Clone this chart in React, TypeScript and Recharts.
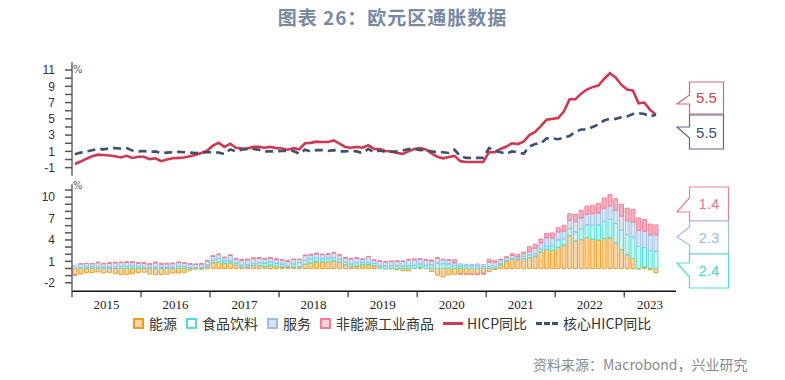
import { ComposedChart, Line, Bar, XAxis, YAxis } from 'recharts';

document.body.style.margin = '0';

const years = ['2015', '2016', '2017', '2018', '2019', '2020', '2021', '2022', '2023'];

// HICP y/y, %
const hicp = [
  -0.55, -0.25, 0.1, 0.4, 0.6, 0.55, 0.5, 0.4, 0.25, 0.45, 0.2, 0.35,
  0.35, 0.05, 0.15, -0.2, 0.0, 0.15, 0.2, 0.25, 0.4, 0.6, 0.8, 1.1,
  1.7, 2.05, 1.55, 1.95, 1.45, 1.35, 1.35, 1.55, 1.55, 1.45, 1.55, 1.4,
  1.35, 1.2, 1.4, 1.25, 2.0, 2.05, 2.2, 2.15, 2.15, 2.35, 1.95, 1.55,
  1.45, 1.55, 1.45, 1.75, 1.3, 1.3, 1.05, 1.0, 0.8, 0.7, 1.0, 1.3,
  1.4, 1.25, 0.75, 0.35, 0.15, 0.3, 0.45, -0.2, -0.3, -0.3, -0.3, -0.3,
  0.9, 0.9, 1.3, 1.6, 2.0, 1.9, 2.2, 3.0, 3.4, 4.1, 4.9, 5.0,
  5.1, 5.9, 7.4, 7.4, 8.1, 8.6, 8.9, 9.1, 9.9, 10.6, 10.1, 9.2,
  8.6, 8.5, 6.9, 7.0, 6.1, 5.5,
];

// core HICP y/y, %
const coreHicp = [
  0.65, 0.85, 1.0, 1.15, 1.3, 1.25, 1.4, 1.4, 1.35, 1.4, 1.1, 1.0,
  1.05, 0.95, 1.0, 0.8, 0.85, 0.9, 0.95, 0.9, 0.85, 0.8, 0.85, 0.9,
  0.9, 0.85, 0.65, 1.25, 1.0, 1.2, 1.3, 1.3, 1.2, 1.0, 1.0, 1.0,
  1.05, 1.05, 1.05, 0.7, 1.2, 1.0, 1.15, 1.15, 1.05, 1.15, 1.0, 1.0,
  1.1, 1.0, 0.8, 1.3, 0.9, 1.1, 0.95, 0.95, 1.0, 1.1, 1.3, 1.3,
  1.15, 1.2, 1.0, 0.9, 0.9, 0.8, 1.2, 0.4, 0.2, 0.2, 0.2, 0.2,
  1.4, 1.1, 0.9, 0.7, 1.0, 0.9, 0.7, 1.6, 1.9, 2.0, 2.6, 2.6,
  2.5, 2.7, 2.9, 3.4, 3.7, 3.7, 4.0, 4.3, 4.8, 5.0, 5.0, 5.2,
  5.3, 5.6, 5.7, 5.6, 5.3, 5.5,
];

// contributions, ppt
const energy = [
  -0.9, -0.77, -0.58, -0.56, -0.49, -0.62, -0.54, -0.7, -0.86, -0.82, -0.71, -0.56,
  -0.52, -0.79, -0.84, -0.84, -0.79, -0.62, -0.65, -0.54, -0.29, -0.09, -0.11, 0.25,
  0.79, 0.9, 0.72, 0.74, 0.44, 0.18, 0.21, 0.39, 0.38, 0.29, 0.46, 0.28,
  0.21, 0.2, 0.19, 0.25, 0.59, 0.78, 0.91, 0.89, 0.92, 1.04, 0.88, 0.53,
  0.26, 0.35, 0.51, 0.51, 0.37, 0.02, -0.05, -0.06, -0.17, -0.3, -0.31, 0.02,
  0.18, -0.03, -0.44, -0.94, -1.15, -0.9, -0.81, -0.76, -0.8, -0.8, -0.81, -0.67,
  -0.41, -0.16, 0.42, 1.01, 1.27, 1.22, 1.39, 1.49, 1.71, 2.3, 2.67, 2.52,
  2.97, 3.29, 4.57, 3.86, 4.03, 4.33, 4.08, 3.98, 4.19, 4.27, 3.59, 2.63,
  1.93, 1.4, -0.09, 0.24, -0.18, -0.57,
];

const food = [
  0.0, 0.1, 0.2, 0.22, 0.24, 0.18, 0.18, 0.24, 0.26, 0.3, 0.3, 0.24,
  0.16, 0.12, 0.16, 0.16, 0.18, 0.18, 0.28, 0.26, 0.14, 0.08, 0.14, 0.24,
  0.36, 0.5, 0.36, 0.3, 0.3, 0.26, 0.28, 0.28, 0.38, 0.46, 0.44, 0.42,
  0.38, 0.2, 0.42, 0.56, 0.52, 0.54, 0.5, 0.48, 0.52, 0.46, 0.4, 0.34,
  0.36, 0.46, 0.3, 0.3, 0.32, 0.3, 0.36, 0.38, 0.34, 0.32, 0.36, 0.4,
  0.44, 0.44, 0.48, 0.74, 0.66, 0.64, 0.4, 0.34, 0.36, 0.38, 0.38, 0.26,
  0.28, 0.26, 0.22, 0.12, 0.12, 0.1, 0.32, 0.4, 0.38, 0.38, 0.44, 0.64,
  1.04, 0.84, 1.0, 1.26, 1.5, 1.78, 1.96, 2.12, 2.36, 2.62, 2.72, 2.76,
  2.82, 3.0, 3.1, 2.7, 2.5, 2.4,
];

const services = [
  0.44, 0.53, 0.48, 0.44, 0.57, 0.48, 0.53, 0.53, 0.57, 0.53, 0.53, 0.48,
  0.53, 0.4, 0.62, 0.44, 0.44, 0.48, 0.53, 0.48, 0.48, 0.48, 0.48, 0.57,
  0.53, 0.57, 0.44, 0.79, 0.57, 0.7, 0.7, 0.7, 0.66, 0.57, 0.53, 0.53,
  0.57, 0.57, 0.66, 0.44, 0.7, 0.57, 0.62, 0.57, 0.57, 0.66, 0.57, 0.57,
  0.7, 0.62, 0.48, 0.84, 0.44, 0.7, 0.53, 0.57, 0.66, 0.66, 0.84, 0.79,
  0.66, 0.7, 0.57, 0.7, 0.57, 0.53, 0.4, 0.31, 0.22, 0.18, 0.26, 0.31,
  0.62, 0.57, 0.57, 0.4, 0.48, 0.31, 0.4, 0.48, 0.75, 0.92, 1.19, 1.06,
  1.1, 1.1, 1.19, 1.45, 1.54, 1.5, 1.63, 1.67, 1.89, 1.89, 1.85, 1.94,
  1.94, 2.11, 2.24, 2.29, 2.2, 2.3,
];

const neig = [
  -0.03, 0.03, 0.05, 0.03, 0.08, 0.08, 0.11, 0.11, 0.08, 0.13, 0.13, 0.13,
  0.18, 0.18, 0.13, 0.13, 0.11, 0.11, 0.11, 0.08, 0.08, 0.08, 0.08, 0.08,
  0.13, 0.05, 0.08, 0.08, 0.08, 0.11, 0.13, 0.13, 0.13, 0.11, 0.11, 0.16,
  0.08, 0.16, 0.05, 0.08, 0.08, 0.11, 0.13, 0.08, 0.08, 0.11, 0.08, 0.11,
  0.08, 0.11, 0.05, 0.05, 0.08, 0.05, 0.11, 0.11, 0.08, 0.08, 0.11, 0.13,
  0.08, 0.13, 0.13, 0.08, 0.05, 0.05, 0.42, -0.03, -0.03, -0.03, -0.08, -0.13,
  0.39, 0.26, 0.08, 0.11, 0.18, 0.32, 0.18, 0.68, 0.55, 0.53, 0.63, 0.76,
  0.6, 0.82, 0.89, 1.0, 1.1, 1.13, 1.18, 1.34, 1.45, 1.6, 1.6, 1.68,
  1.76, 1.79, 1.74, 1.63, 1.53, 1.4,
];

const topTicks = [-1, 0, 1, 2, 3, 4, 5, 6, 7, 8, 9, 10, 11];
const bottomTicks = [-2, -1, 0, 1, 2, 3, 4, 5, 6, 7, 8, 9, 10, 11];

const legendLabels = ['能源', '食品饮料', '服务', '非能源工业商品', 'HICP同比', '核心HICP同比'];

const C = {
  energy: '#F39A22',
  food: '#4FDFD6',
  services: '#9DBDE4',
  neig: '#F27C96',
  hicp: '#D0384F',
  core: '#3E4F70',
};

const rows = hicp.map((v, i) => ({
  x: i + 0.5,
  month: `${years[Math.floor(i / 12)]}-${String((i % 12) + 1).padStart(2, '0')}`,
  hicp: v,
  core: coreHicp[i],
  energy: energy[i],
  food: food[i],
  services: services[i],
  neig: neig[i],
}));

const X_MAX = 105;
const yearBounds = years.map((_, i) => i * 12);
const yearMids = years.map((_, i) => (i === years.length - 1 ? (i * 12 + X_MAX) / 2 : i * 12 + 6));

const yearFont = { fontSize: 13, fill: '#222', fontFamily: '"Liberation Serif", serif' };
const valueFont = { fontSize: 12, fill: '#333', fontFamily: '"Liberation Sans", sans-serif' };

const YearTick = (props: any) => {
  const { x, y, payload } = props;
  const v = payload.value;
  if (yearBounds.indexOf(v) >= 0) {
    return <line x1={x} x2={x} y1={y} y2={y + 6} stroke="#333" strokeWidth={1.2} />;
  }
  const mi = yearMids.indexOf(v);
  return (
    <text x={x} y={y + 18} textAnchor="middle" {...yearFont}>
      {years[mi]}
    </text>
  );
};

const last = (a: number[]) => a[a.length - 1].toFixed(1);

function LegendIcon({ color, light }: { color: string; light: string }) {
  return (
    <span
      style={{
        display: 'inline-block',
        width: 7,
        height: 7,
        border: `2px solid ${color}`,
        background: light,
        marginRight: 5,
      }}
    />
  );
}

export default function App() {
  const legendItem = { display: 'flex', alignItems: 'center', marginRight: 9 } as const;
  return (
    <div
      style={{
        position: 'relative',
        width: 785,
        height: 380,
        background: '#fff',
        overflow: 'hidden',
        fontFamily: '"Noto Sans CJK SC", sans-serif',
      }}
    >
      <div
        style={{
          position: 'absolute',
          top: 3,
          left: 0,
          width: 785,
          textAlign: 'center',
          fontSize: 19,
          fontWeight: 700,
          color: '#7889A4',
          letterSpacing: 1,
        }}
      >
        图表 26：欧元区通胀数据
      </div>

      <div style={{ position: 'absolute', left: 0, top: 0 }}>
        <ComposedChart width={785} height={185} data={rows} margin={{ top: 61.9, right: 109, bottom: 9.2, left: 40 }}>
          <XAxis
            type="number"
            dataKey="x"
            domain={[0, X_MAX]}
            ticks={[]}
            tick={false}
            tickLine={false}
            axisLine={{ stroke: '#111', strokeWidth: 1.5 }}
            height={0}
          />
          <YAxis
            width={32}
            domain={[-2, 12]}
            ticks={topTicks}
            interval={0}
            allowDataOverflow
            tickFormatter={(v: number) => (Math.abs(v) % 2 === 1 ? String(v) : '')}
            tickSize={7}
            tickMargin={10}
            axisLine={{ stroke: '#666', strokeWidth: 1.5 }}
            tickLine={{ stroke: '#555', strokeWidth: 1.5 }}
            tick={valueFont}
          />
          <Line dataKey="hicp" stroke={C.hicp} strokeWidth={2.6} dot={false} isAnimationActive={false} />
          <Line
            dataKey="core"
            stroke={C.core}
            strokeWidth={2.6}
            strokeDasharray="8 5"
            dot={false}
            isAnimationActive={false}
          />
        </ComposedChart>
      </div>

      <div style={{ position: 'absolute', left: 0, top: 170 }}>
        <ComposedChart
          width={785}
          height={150}
          data={rows}
          stackOffset="sign"
          margin={{ top: 14.3, right: 109, bottom: 0, left: 40 }}
        >
          <XAxis
            type="number"
            dataKey="x"
            domain={[0, X_MAX]}
            ticks={[...yearBounds, ...yearMids]}
            interval={0}
            tickLine={false}
            tickSize={0}
            tickMargin={0}
            tick={<YearTick />}
            axisLine={{ stroke: '#111', strokeWidth: 1.5 }}
            height={28.7}
          />
          <YAxis
            width={32}
            domain={[-3.2, 11.8]}
            ticks={bottomTicks}
            interval={0}
            allowDataOverflow
            tickFormatter={(v: number) => ((v + 2) % 3 === 0 ? String(v) : '')}
            tickSize={7}
            tickMargin={10}
            axisLine={{ stroke: '#666', strokeWidth: 1.5 }}
            tickLine={{ stroke: '#555', strokeWidth: 1.5 }}
            tick={valueFont}
          />
          <Bar dataKey="energy" stackId="s" barSize={4} fill={C.energy} fillOpacity={0.4} stroke={C.energy} strokeWidth={1} isAnimationActive={false} />
          <Bar dataKey="food" stackId="s" barSize={4} fill={C.food} fillOpacity={0.3} stroke={C.food} strokeWidth={1} isAnimationActive={false} />
          <Bar dataKey="services" stackId="s" barSize={4} fill={C.services} fillOpacity={0.4} stroke={C.services} strokeWidth={1} isAnimationActive={false} />
          <Bar dataKey="neig" stackId="s" barSize={4} fill={C.neig} fillOpacity={0.6} stroke={C.neig} strokeWidth={1} isAnimationActive={false} />
        </ComposedChart>
      </div>

      <svg width={785} height={380} style={{ position: 'absolute', left: 0, top: 0, pointerEvents: 'none' }}>
        <text x={73} y={73} fontSize={10} fill="#555" fontFamily="DejaVu Sans">%</text>
        <text x={73} y={189} fontSize={10} fill="#555" fontFamily="DejaVu Sans">%</text>

        <path d="M689.5,82 H723.5 V114 H689.5 V104 H677 L689.5,95 Z" fill="#fff" stroke="#D9647A" strokeWidth={1.2} />
        <text x={706.5} y={103} textAnchor="middle" fontSize={15} fill="#C8405C" fontFamily="Liberation Sans">{last(hicp)}</text>
        <path d="M689.5,115 H723.5 V149 H689.5 V138 L677,127 H689.5 Z" fill="#fff" stroke="#5C6B87" strokeWidth={1.2} />
        <text x={706.5} y={138} textAnchor="middle" fontSize={15} fill="#3E5072" fontFamily="Liberation Sans">{last(coreHicp)}</text>

        <path d="M689.5,187 H728.5 V221 H689.5 V212 H677 L689.5,198 Z" fill="#fff" stroke={C.neig} strokeWidth={1.2} />
        <text x={709} y={209} textAnchor="middle" fontSize={15} fill="#EE7590" fontFamily="Liberation Sans">{last(neig)}</text>
        <path d="M689.5,221 H728.5 V254 H689.5 V245 L677,237 L689.5,227 Z" fill="#fff" stroke={C.services} strokeWidth={1.2} />
        <text x={709} y={243} textAnchor="middle" fontSize={15} fill="#9CBDE5" fontFamily="Liberation Sans">{last(services)}</text>
        <path d="M689.5,254 H728.5 V288 H689.5 V277 L677,263 H689.5 Z" fill="#fff" stroke={C.food} strokeWidth={1.2} />
        <text x={709} y={276} textAnchor="middle" fontSize={15} fill="#3FD6CC" fontFamily="Liberation Sans">{last(food)}</text>
      </svg>

      <div
        style={{
          position: 'absolute',
          top: 313,
          left: 133,
          display: 'flex',
          alignItems: 'center',
          fontSize: 14,
          color: '#333',
          whiteSpace: 'nowrap',
        }}
      >
        <span style={legendItem}><LegendIcon color={C.energy} light="#FBD7A6" />{legendLabels[0]}</span>
        <span style={legendItem}><LegendIcon color={C.food} light="#fff" />{legendLabels[1]}</span>
        <span style={legendItem}><LegendIcon color={C.services} light="#D6E4F5" />{legendLabels[2]}</span>
        <span style={legendItem}><LegendIcon color={C.neig} light="#FBD0DA" />{legendLabels[3]}</span>
        <span style={legendItem}>
          <span style={{ display: 'inline-block', width: 20, height: 3, background: C.hicp, marginRight: 4 }} />
          {legendLabels[4]}
        </span>
        <span style={legendItem}>
          <span style={{ display: 'inline-block', width: 22, borderTop: `3px dashed ${C.core}`, marginRight: 5 }} />
          {legendLabels[5]}
        </span>
      </div>

      <div
        style={{
          position: 'absolute',
          top: 354,
          left: 533,
          fontSize: 14,
          color: '#8A8A8A',
          whiteSpace: 'nowrap',
        }}
      >
        资料来源：Macrobond，兴业研究
      </div>
    </div>
  );
}
